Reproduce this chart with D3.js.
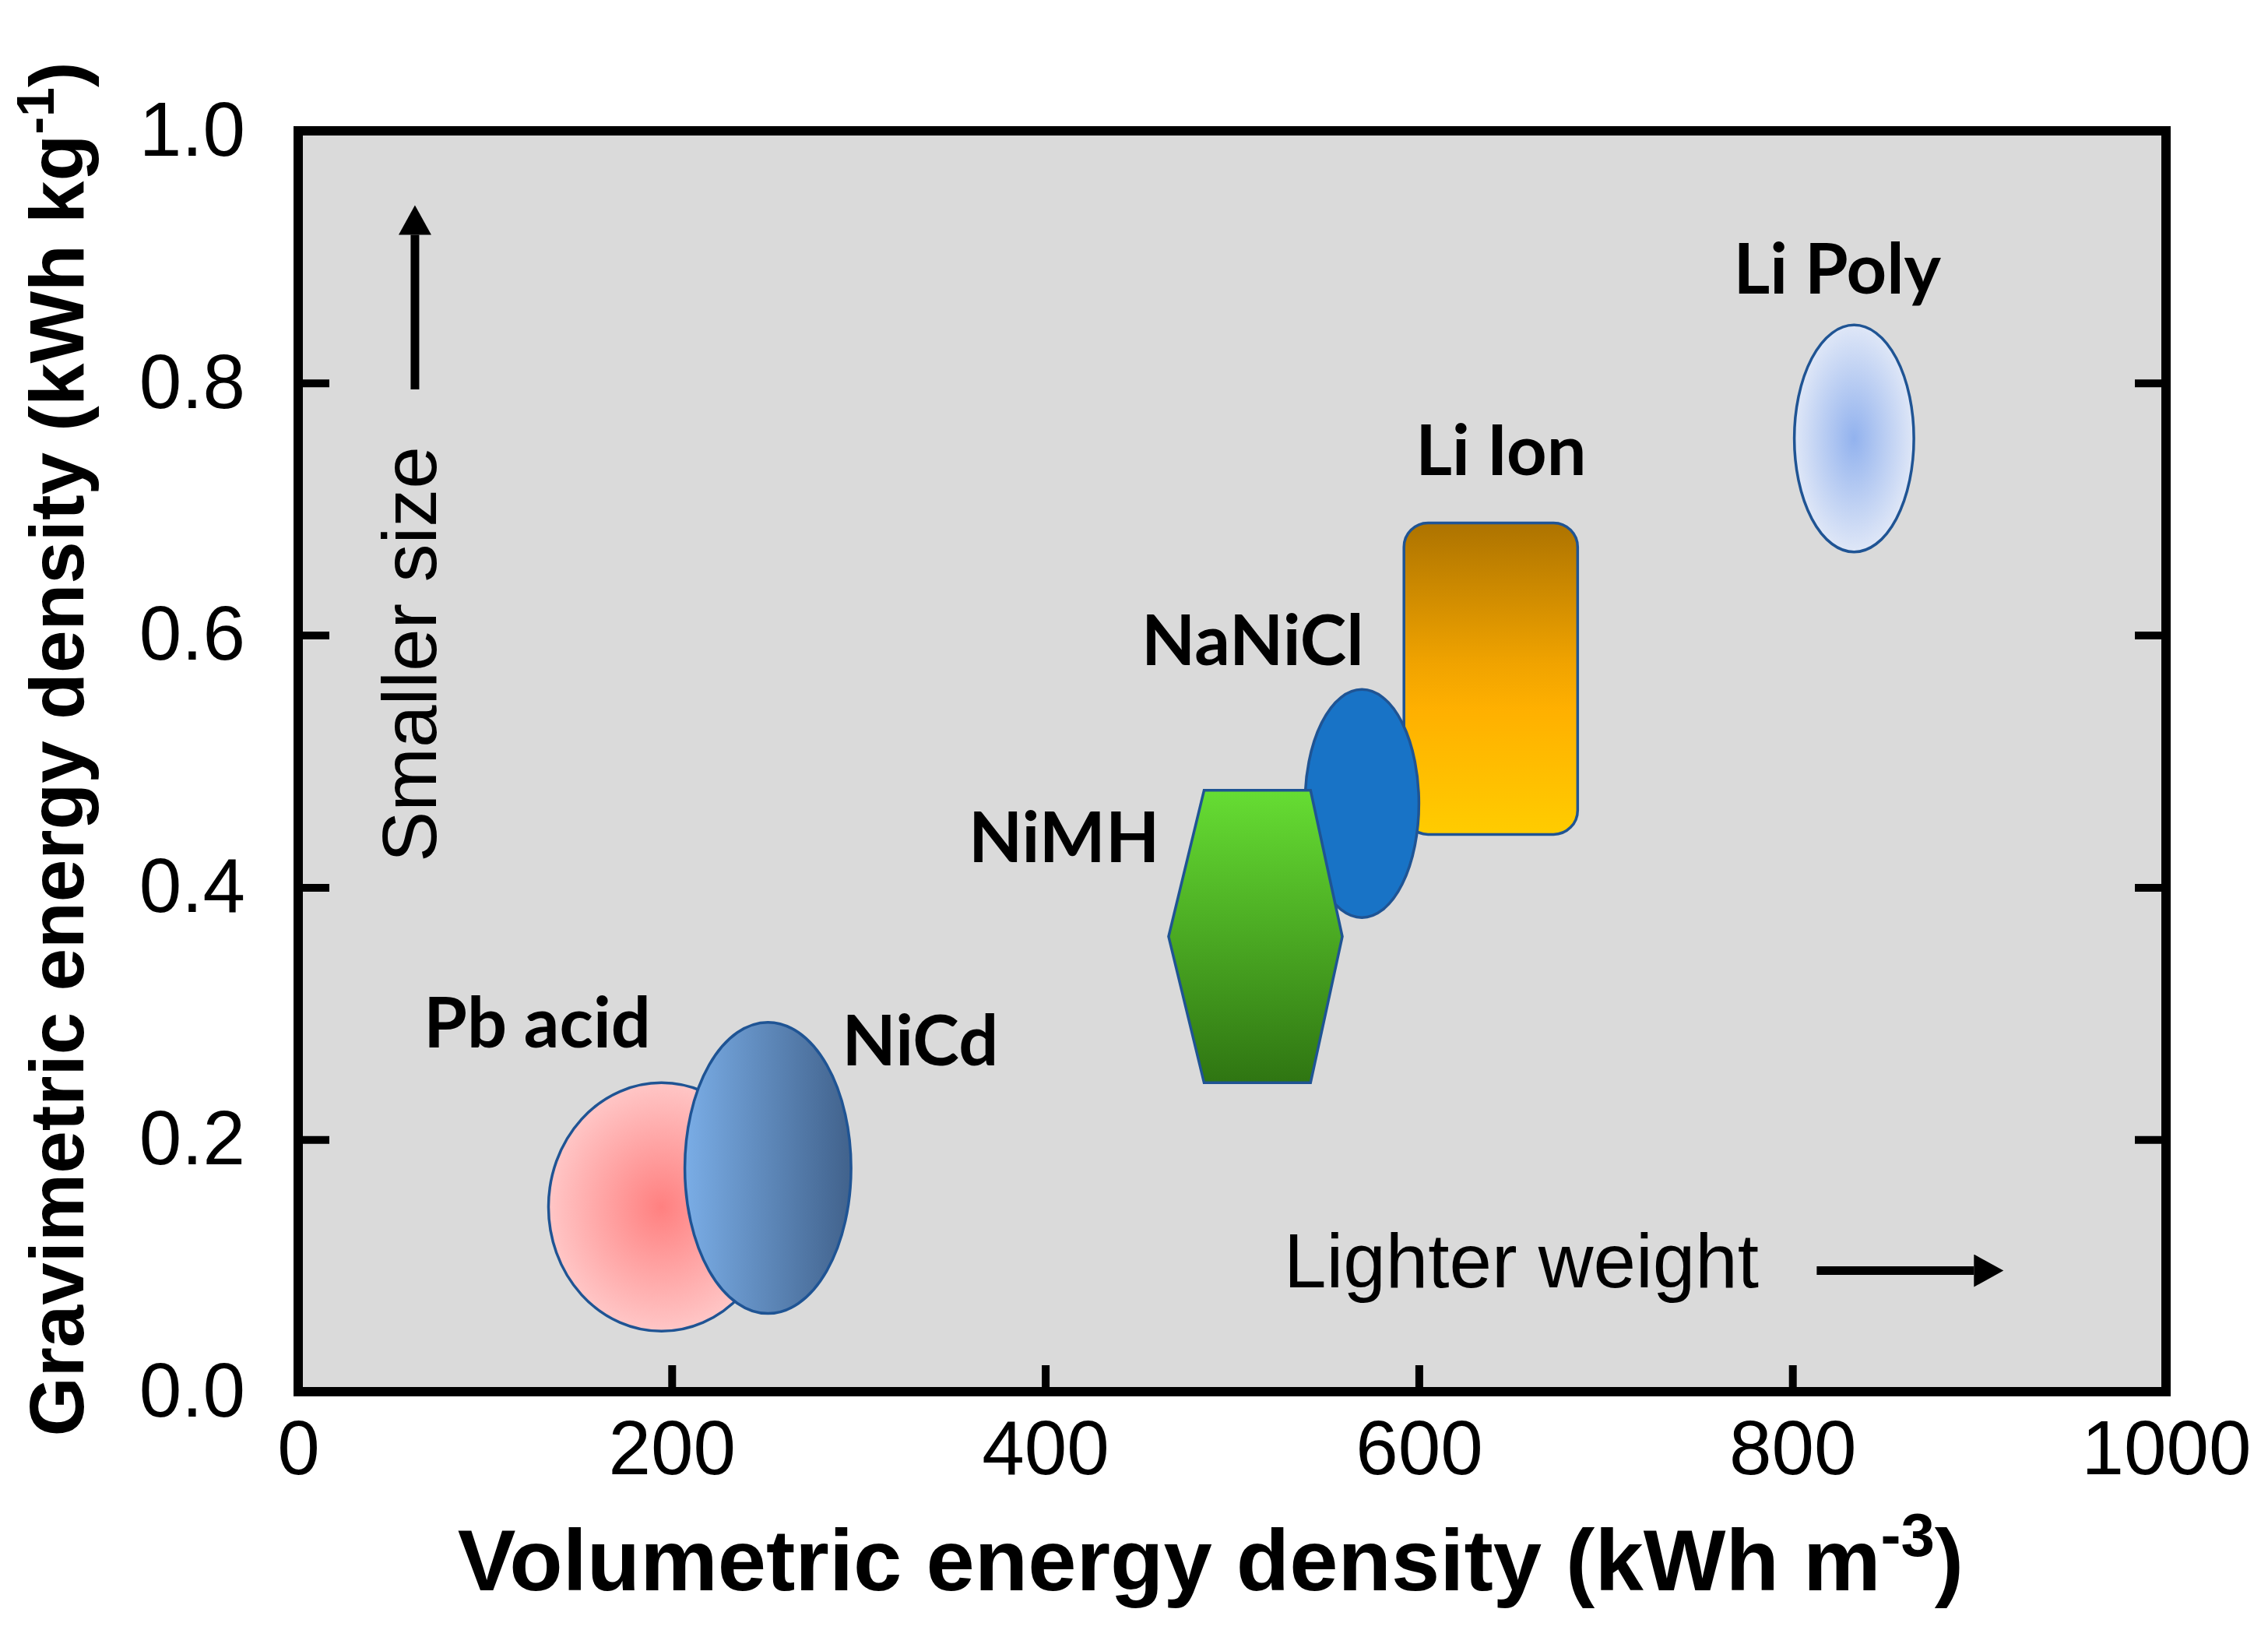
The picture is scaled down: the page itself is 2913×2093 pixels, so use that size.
<!DOCTYPE html>
<html>
<head>
<meta charset="utf-8">
<script src="https://cdnjs.cloudflare.com/ajax/libs/d3/7.8.5/d3.min.js"></script>
<style>
  body { margin: 0; background: #fff; }
  .axis text { font-family: "Liberation Sans", Arial, sans-serif; font-size: 98px; fill: #000; }
  .axis line { stroke: #000; stroke-width: 10; }
  .axis .domain { display: none; }
  .tag { font-family: Lato, "Open Sans", sans-serif; font-weight: 700; font-size: 90px; }
  .note { font-family: "Liberation Sans", Arial, sans-serif; font-size: 98px; }
  .title { font-family: "Liberation Sans", Arial, sans-serif; font-weight: 700; }
</style>
</head>
<body>
<div id="chart"></div>
<script>
// battery technologies, listed in drawing order (later ones sit on top)
var batteries = ["Pb acid", "NiCd", "Li Ion", "NaNiCl", "NiMH", "Li Poly"];
var shapeKinds = ["ellipse", "ellipse", "roundrect", "ellipse", "hexagon", "ellipse"];
// volumetric energy density range, kWh m-3
var volLow  = [134, 207, 592, 539, 466, 801];
var volHigh = [255, 296, 685, 600, 559, 865];
// gravimetric energy density range, kWh kg-1
var gravLow  = [0.048, 0.062, 0.442, 0.376, 0.245, 0.666];
var gravHigh = [0.245, 0.293, 0.689, 0.557, 0.477, 0.846];
// flat top/bottom edge of the NiMH hexagon
var nimhFlat = [485, 542];
// label anchors (data units)
var labelVol  = [128, 333, 644, 511, 410, 824];
var labelGrav = [0.273, 0.259, 0.727, 0.576, 0.420, 0.871];

var xTicks = [0, 200, 400, 600, 800, 1000];
var yTicks = [0, 0.2, 0.4, 0.6, 0.8, 1.0];

EnergyChart = function(_parentElement) {
    this.parentElement = _parentElement;
    this.width = 2913;
    this.height = 2093;
    this.initVis();
};

EnergyChart.prototype.initVis = function() {
    var vis = this;
    vis.svg = d3.select("#" + vis.parentElement).append("svg")
        .attr("width", vis.width)
        .attr("height", vis.height);

    vis.x = d3.scaleLinear().domain([0, 1000]).range([383, 2782]);
    vis.y = d3.scaleLinear().domain([0, 1]).range([1787, 168]);

    vis.initDefs();

    // grey plot background
    vis.svg.append("rect")
        .attr("x", vis.x(0)).attr("y", vis.y(1))
        .attr("width", vis.x(1000) - vis.x(0))
        .attr("height", vis.y(0) - vis.y(1))
        .attr("fill", "#dadada");

    vis.drawAxes();
    vis.drawShapes();
    vis.drawNotes();

    // frame on top
    vis.svg.append("rect")
        .attr("x", vis.x(0)).attr("y", vis.y(1))
        .attr("width", vis.x(1000) - vis.x(0))
        .attr("height", vis.y(0) - vis.y(1))
        .attr("fill", "none")
        .attr("stroke", "#000")
        .attr("stroke-width", 12);
};

EnergyChart.prototype.initDefs = function() {
    var defs = this.svg.append("defs");

    var pb = defs.append("radialGradient").attr("id", "fill0");
    pb.append("stop").attr("offset", "0").attr("stop-color", "#ff8080");
    pb.append("stop").attr("offset", "1").attr("stop-color", "#ffc6c6");

    var nicd = defs.append("linearGradient").attr("id", "fill1")
        .attr("x1", 0).attr("x2", 1).attr("y1", 0).attr("y2", 0);
    nicd.append("stop").attr("offset", "0").attr("stop-color", "#7aade6");
    nicd.append("stop").attr("offset", "1").attr("stop-color", "#41628c");

    var liion = defs.append("linearGradient").attr("id", "fill2")
        .attr("x1", 0).attr("x2", 0).attr("y1", 0).attr("y2", 1);
    liion.append("stop").attr("offset", "0").attr("stop-color", "#ad7300");
    liion.append("stop").attr("offset", "0.45").attr("stop-color", "#f0a300");
    liion.append("stop").attr("offset", "0.6").attr("stop-color", "#ffb000");
    liion.append("stop").attr("offset", "1").attr("stop-color", "#ffcc00");

    var nimh = defs.append("linearGradient").attr("id", "fill4")
        .attr("x1", 0).attr("x2", 0).attr("y1", 0).attr("y2", 1);
    nimh.append("stop").attr("offset", "0").attr("stop-color", "#66dd33");
    nimh.append("stop").attr("offset", "1").attr("stop-color", "#2f7512");

    var lipoly = defs.append("radialGradient").attr("id", "fill5");
    lipoly.append("stop").attr("offset", "0").attr("stop-color", "#92b2ee");
    lipoly.append("stop").attr("offset", "1").attr("stop-color", "#dfe7f7");

    defs.append("marker")
        .attr("id", "head")
        .attr("markerUnits", "userSpaceOnUse")
        .attr("markerWidth", 40).attr("markerHeight", 42)
        .attr("refX", 0).attr("refY", 21)
        .attr("orient", "auto")
        .append("path")
        .attr("d", "M0,0 L38,21 L0,42 Z")
        .attr("fill", "#000");
};

EnergyChart.prototype.drawAxes = function() {
    var vis = this;

    vis.svg.append("g")
        .attr("class", "axis")
        .attr("transform", "translate(" + vis.x(0) + ",0)")
        .call(d3.axisLeft(vis.y).tickValues(yTicks).tickFormat(d3.format(".1f"))
            .tickSize(-40).tickPadding(68));

    vis.svg.append("g")
        .attr("class", "axis")
        .attr("transform", "translate(" + vis.x(1000) + ",0)")
        .call(d3.axisRight(vis.y).tickValues(yTicks).tickFormat("").tickSize(-40));

    vis.svg.append("g")
        .attr("class", "axis")
        .attr("transform", "translate(0," + vis.y(0) + ")")
        .call(d3.axisBottom(vis.x).tickValues(xTicks).tickFormat(d3.format("d"))
            .tickSize(-34).tickPadding(36));

    // y title
    var yt = vis.svg.append("text")
        .attr("class", "title")
        .attr("transform", "translate(107,962) rotate(-90)")
        .attr("text-anchor", "middle")
        .attr("font-size", 98);
    yt.append("tspan").text("Gravimetric energy density (kWh kg");
    yt.append("tspan").attr("font-size", 68).attr("dy", -38).text("-1");
    yt.append("tspan").attr("dy", 38).text(")");

    // x title
    var xt = vis.svg.append("text")
        .attr("class", "title")
        .attr("x", 1555).attr("y", 2042)
        .attr("text-anchor", "middle")
        .attr("font-size", 112);
    xt.append("tspan").text("Volumetric energy density (kWh m");
    xt.append("tspan").attr("font-size", 78).attr("dy", -44).text("-3");
    xt.append("tspan").attr("dy", 44).text(")");
};

EnergyChart.prototype.drawShapes = function() {
    var vis = this;
    var x = vis.x, y = vis.y;
    var g = vis.svg.append("g");

    batteries.forEach(function(name, i) {
        var x0 = x(volLow[i]), x1 = x(volHigh[i]);
        var y0 = y(gravHigh[i]), y1 = y(gravLow[i]);
        var fill = (name === "NaNiCl") ? "#1873c6" : "url(#fill" + i + ")";
        var shape;
        if (shapeKinds[i] === "ellipse") {
            shape = g.append("ellipse")
                .attr("cx", (x0 + x1) / 2).attr("cy", (y0 + y1) / 2)
                .attr("rx", (x1 - x0) / 2).attr("ry", (y1 - y0) / 2);
        } else if (shapeKinds[i] === "roundrect") {
            shape = g.append("rect")
                .attr("x", x0).attr("y", y0)
                .attr("width", x1 - x0).attr("height", y1 - y0)
                .attr("rx", 31).attr("ry", 31);
        } else {
            var mid = (gravLow[i] + gravHigh[i]) / 2;
            var pts = [
                [x(nimhFlat[0]), y0], [x(nimhFlat[1]), y0], [x1, y(mid)],
                [x(nimhFlat[1]), y1], [x(nimhFlat[0]), y1], [x0, y(mid)]
            ];
            shape = g.append("path").attr("d", d3.line()(pts) + "Z");
        }
        shape.attr("fill", fill)
            .attr("stroke", "#1f5494")
            .attr("stroke-width", 3.5);
    });

    g.selectAll(".tag")
        .data(batteries)
        .enter().append("text")
        .attr("class", "tag")
        .attr("x", function(d, i) { return x(labelVol[i]); })
        .attr("y", function(d, i) { return y(labelGrav[i]); })
        .attr("text-anchor", "middle")
        .text(function(d) { return d; });
};

EnergyChart.prototype.drawNotes = function() {
    var vis = this;
    var x = vis.x, y = vis.y;

    vis.svg.append("text")
        .attr("class", "note")
        .attr("x", x(527.7)).attr("y", y(0.083))
        .text("Lighter weight");

    vis.svg.append("line")
        .attr("x1", x(813)).attr("x2", x(913) - 38)
        .attr("y1", y(0.096)).attr("y2", y(0.096))
        .attr("stroke", "#000").attr("stroke-width", 11)
        .attr("marker-end", "url(#head)");

    vis.svg.append("text")
        .attr("class", "note")
        .attr("transform", "translate(" + x(73.8) + "," + y(0.42) + ") rotate(-90)")
        .text("Smaller size");

    vis.svg.append("line")
        .attr("x1", x(62.5)).attr("x2", x(62.5))
        .attr("y1", y(0.795)).attr("y2", y(0.941) + 38)
        .attr("stroke", "#000").attr("stroke-width", 11)
        .attr("marker-end", "url(#head)");
};

var chart = new EnergyChart("chart");
</script>
</body>
</html>
